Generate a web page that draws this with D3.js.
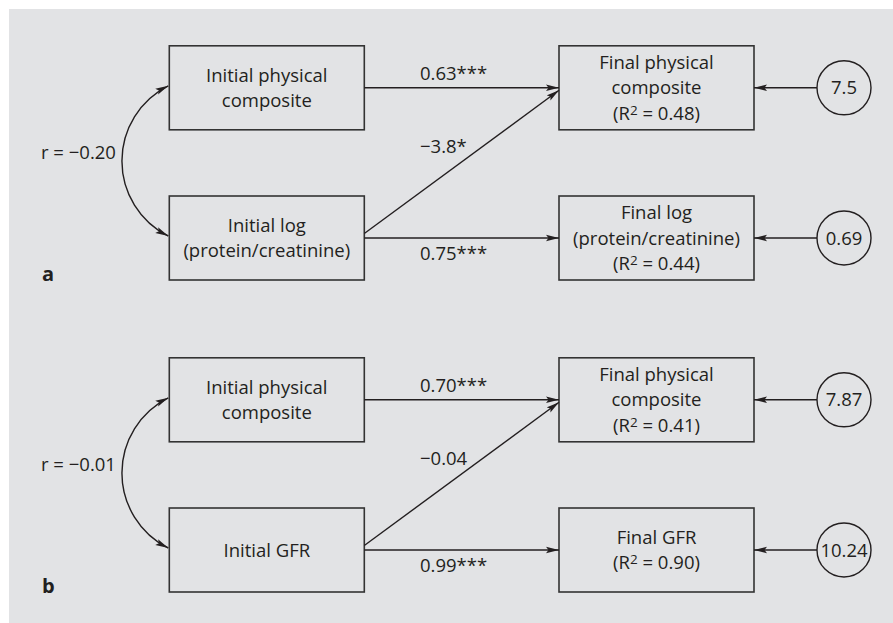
<!DOCTYPE html>
<html>
<head>
<meta charset="utf-8">
<script src="https://cdn.jsdelivr.net/npm/d3@7"></script>
<style>
  html, body { margin: 0; padding: 0; background: #ffffff; }
  svg { display: block; }
  text { font-family: "Open Sans", "Noto Sans", sans-serif; fill: #231f20; }
</style>
</head>
<body>
<svg id="chart" width="893" height="623"></svg>
<script>
// ---- data ----
const panels = ["a", "b"];
const correlations = ["r = \u22120.20", "r = \u22120.01"];
const initialTop = [["Initial physical", "composite"], ["Initial physical", "composite"]];
const initialBottom = [["Initial log", "(protein/creatinine)"], ["Initial GFR"]];
const finalTop = [["Final physical", "composite"], ["Final physical", "composite"]];
const finalBottom = [["Final log", "(protein/creatinine)"], ["Final GFR"]];
const r2Top = ["0.48", "0.41"];
const r2Bottom = ["0.44", "0.90"];
const coefTop = ["0.63***", "0.70***"];
const coefCross = ["\u22123.8*", "\u22120.04"];
const coefBottom = ["0.75***", "0.99***"];
const residualTop = ["7.5", "7.87"];
const residualBottom = ["0.69", "10.24"];

// ---- layout scales ----
const W = 893, H = 623;
const FS = 18.5;
const svg = d3.select("#chart");
const col = d3.scaleOrdinal().domain(["initial", "final", "residual"]).range([266.8, 656.5, 844]);
const panelY = d3.scaleOrdinal().domain(panels).range([0, 312]);
const rowY = d3.scaleOrdinal().domain(["top", "bottom"]).range([87.8, 238]);
const boxW = 195, boxH = 84, circR = 27, lineH = 25.3;
const Y = (p, r) => panelY(p) + rowY(r);

svg.append("rect").attr("x", 9).attr("y", 9).attr("width", W - 9).attr("height", H - 9).attr("fill", "#e2e3e5");

const defs = svg.append("defs");
defs.append("marker").attr("id", "arr").attr("viewBox", "0 0 13 8")
  .attr("refX", 13).attr("refY", 4).attr("markerWidth", 13).attr("markerHeight", 8)
  .attr("markerUnits", "userSpaceOnUse").attr("orient", "auto-start-reverse")
  .append("path").attr("d", "M0,0.8 L13,4 L0,7.2 L2.5,4 Z").attr("fill", "#231f20");

const ink = "#231f20";

function box(cx, cy, lines, r2) {
  svg.append("rect").attr("x", cx - boxW / 2).attr("y", cy - boxH / 2)
    .attr("width", boxW).attr("height", boxH)
    .attr("fill", "none").attr("stroke", "#333").attr("stroke-width", 1.6);
  const all = lines.slice();
  if (r2 !== undefined) all.push(null);
  const n = all.length;
  all.forEach((ln, i) => {
    const t = svg.append("text").attr("x", cx).attr("y", cy + (i - (n - 1) / 2) * lineH + 6.5)
      .attr("text-anchor", "middle").attr("font-size", FS);
    if (ln !== null) t.text(ln);
    else {
      t.append("tspan").text("(R");
      t.append("tspan").attr("font-size", 13.5).attr("dy", -5).text("2");
      t.append("tspan").attr("dy", 5).text(" = " + r2 + ")");
    }
  });
}

function arrow(x1, y1, x2, y2) {
  svg.append("line").attr("x1", x1).attr("y1", y1).attr("x2", x2).attr("y2", y2)
    .attr("stroke", ink).attr("stroke-width", 1.4).attr("marker-end", "url(#arr)");
}

panels.forEach((p, i) => {
  const yT = Y(p, "top"), yB = Y(p, "bottom");
  const xi = col("initial"), xf = col("final"), xr = col("residual");
  box(xi, yT, initialTop[i]);
  box(xi, yB, initialBottom[i]);
  box(xf, yT, finalTop[i], r2Top[i]);
  box(xf, yB, finalBottom[i], r2Bottom[i]);

  const xL = xi + boxW / 2, xR = xf - boxW / 2;
  arrow(xL, yT, xR, yT);
  arrow(xL, yB, xR, yB);
  arrow(xL, yB - 4.5, xR, yT + 2.5);

  // residual circles
  [[yT, residualTop[i]], [yB, residualBottom[i]]].forEach(([cy, lab]) => {
    svg.append("circle").attr("cx", xr).attr("cy", cy).attr("r", circR)
      .attr("fill", "none").attr("stroke", ink).attr("stroke-width", 1.4);
    svg.append("text").attr("x", xr).attr("y", cy + 6.5).attr("text-anchor", "middle")
      .attr("font-size", FS).text(lab);
    arrow(xr - circR, cy, xf + boxW / 2, cy);
  });

  // coefficient labels
  const lx = 420;
  svg.append("text").attr("x", lx).attr("y", yT - 7.5).attr("font-size", FS).text(coefTop[i]);
  svg.append("text").attr("x", lx).attr("y", yT + 65.5).attr("font-size", FS).text(coefCross[i]);
  svg.append("text").attr("x", lx).attr("y", yB + 22).attr("font-size", FS).text(coefBottom[i]);

  // correlation curve
  const x0 = xi - boxW / 2 - 1, ya = yT - 2, yb = yB - 2;
  svg.append("path")
    .attr("d", `M${x0},${ya} A84,84 0 0,0 ${x0},${yb}`)
    .attr("fill", "none").attr("stroke", ink).attr("stroke-width", 1.4)
    .attr("marker-start", "url(#arr)").attr("marker-end", "url(#arr)");
  svg.append("text").attr("x", 41).attr("y", (ya + yb) / 2 - 2).attr("font-size", FS).text(correlations[i]);

  svg.append("text").attr("x", 42).attr("y", yB + 42.5).attr("font-size", 20)
    .attr("font-weight", "bold").text(p);
});
</script>
</body>
</html>
